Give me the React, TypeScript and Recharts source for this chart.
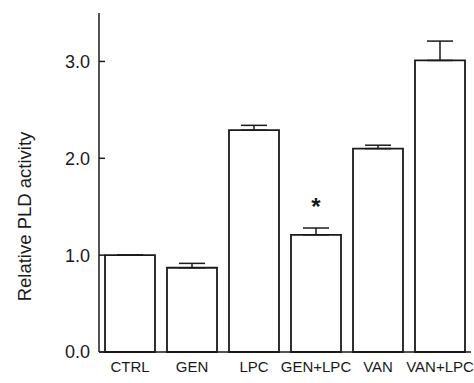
import { BarChart, Bar, XAxis, YAxis, ErrorBar, LabelList, Label } from 'recharts';

const categories = ['CTRL', 'GEN', 'LPC', 'GEN+LPC', 'VAN', 'VAN+LPC'];
const activity = [1.0, 0.87, 2.29, 1.21, 2.1, 3.01];
const sem = [0, 0.045, 0.05, 0.07, 0.035, 0.2];
const stars = ['', '', '', '*', '', ''];
const yTicks = [0, 1, 2, 3];

const FONT = '"Liberation Sans", Arial, Helvetica, sans-serif';
const INK = '#1a1a1a';

// only the upper half of the error bar is drawn, like the original figure
const data = categories.map((name, i) => ({
  name,
  value: activity[i],
  err: [0, sem[i]],
  star: stars[i],
}));

const XTick = (props: any) => {
  const { x, y, payload } = props;
  return (
    <text x={x} y={y} dy="0.71em" textAnchor="middle" fontSize={15} fill={INK} fontFamily={FONT}>
      {payload.value}
    </text>
  );
};

const YTick = (props: any) => {
  const { x, y, payload } = props;
  return (
    <text x={x} y={y} dy="0.355em" textAnchor="end" fontSize={18} fill={INK} fontFamily={FONT}>
      {Number(payload.value).toFixed(1)}
    </text>
  );
};

const StarLabel = (props: any) => {
  const { x, y, width, value } = props;
  if (!value) return null;
  return (
    <text x={x + width / 2} y={y - 20} textAnchor="middle" fontSize={24} fontWeight="bold" fill={INK} fontFamily={FONT}>
      {value}
    </text>
  );
};

const YTitle = (props: any) => {
  const vb = props.viewBox;
  const cy = vb.y + vb.height / 2 + 34;
  return (
    <text x={31} y={cy} transform={`rotate(-90, 31, ${cy})`} textAnchor="middle" fontSize={18.5} fill={INK} fontFamily={FONT}>
      Relative PLD activity
    </text>
  );
};

export default function App() {
  return (
    <div style={{ position: 'absolute', left: 0, top: 0, background: '#fff' }}>
      <BarChart width={474} height={383} data={data} margin={{ top: 13, right: 3, left: 0, bottom: 0 }}>
        <XAxis
          dataKey="name"
          height={31}
          tickLine={false}
          tickSize={0}
          tickMargin={9}
          axisLine={{ stroke: INK, strokeWidth: 1.5 }}
          tick={<XTick />}
          interval={0}
        />
        <YAxis
          width={99}
          domain={[0, 3.5]}
          ticks={yTicks}
          tickSize={-6}
          tickMargin={15}
          tickLine={{ stroke: INK, strokeWidth: 1.5 }}
          axisLine={{ stroke: INK, strokeWidth: 1.5 }}
          tick={<YTick />}
        >
          <Label content={<YTitle />} />
        </YAxis>
        <Bar dataKey="value" fill="#fff" stroke={INK} strokeWidth={1.8} barSize={50} isAnimationActive={false}>
          <ErrorBar dataKey="err" width={13} stroke={INK} strokeWidth={1.5} direction="y" isAnimationActive={false} />
          <LabelList dataKey="star" content={<StarLabel />} />
        </Bar>
      </BarChart>
    </div>
  );
}
